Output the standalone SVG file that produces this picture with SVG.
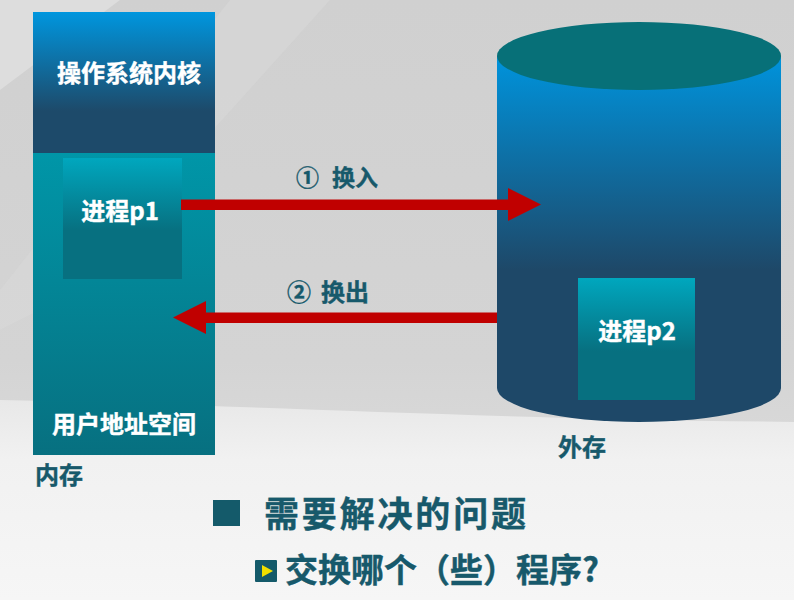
<svg xmlns="http://www.w3.org/2000/svg" width="794" height="600" viewBox="0 0 794 600">
<defs>
<linearGradient id="bg" x1="0" y1="0" x2="0" y2="1">
<stop offset="0" stop-color="#d0d0d0"/>
<stop offset="0.6" stop-color="#d4d4d4"/>
<stop offset="1" stop-color="#e2e2e2"/>
</linearGradient>
<linearGradient id="bg2" x1="0" y1="0" x2="0" y2="1">
<stop offset="0" stop-color="#e8e8e8"/>
<stop offset="0.3" stop-color="#f1f1f1"/>
<stop offset="1" stop-color="#f6f6f6"/>
</linearGradient>
<linearGradient id="kern" x1="0" y1="0" x2="0" y2="1">
<stop offset="0" stop-color="#0096de"/>
<stop offset="0.7" stop-color="#1d4a6a"/>
<stop offset="1" stop-color="#1d4a6a"/>
</linearGradient>
<linearGradient id="user" x1="0" y1="0" x2="0" y2="1">
<stop offset="0" stop-color="#0096a8"/>
<stop offset="1" stop-color="#077080"/>
</linearGradient>
<linearGradient id="proc" x1="0" y1="0" x2="0" y2="1">
<stop offset="0" stop-color="#00a7be"/>
<stop offset="0.6" stop-color="#077080"/>
<stop offset="1" stop-color="#077080"/>
</linearGradient>
<linearGradient id="cyl" gradientUnits="userSpaceOnUse" x1="0" y1="60" x2="0" y2="270">
<stop offset="0" stop-color="#0092da"/>
<stop offset="1" stop-color="#1e4868"/>
</linearGradient>
<style>
.w{fill:#ffffff;stroke:#ffffff;stroke-width:0.4;font-family:"Noto Sans CJK SC","Noto Sans",sans-serif;font-weight:bold;text-anchor:middle}
.d{fill:#17596b;stroke:#17596b;stroke-width:0.4;font-family:"Noto Sans CJK SC","Noto Sans",sans-serif;font-weight:bold}
.arr{fill:#c00000}
</style>
</defs>
<rect x="0" y="0" width="794" height="600" fill="url(#bg)"/>
<path d="M0,0 L120,0 L0,90 Z" fill="#e2e2e2" opacity="0.7"/>
<path d="M230,0 L330,0 L60,300 L0,330 L0,290 Z" fill="#dadada" opacity="0.5"/>
<path d="M0,400 C250,405 450,418 794,422 L794,600 L0,600 Z" fill="url(#bg2)"/>

<g id="memory">
<rect x="33" y="12" width="182" height="141" fill="url(#kern)"/>
<rect x="33" y="153" width="182" height="302" fill="url(#user)"/>
<text class="w" x="129" y="82" font-size="24">操作系统内核</text>
<text class="w" x="124" y="433" font-size="24">用户地址空间</text>
</g>
<g id="p1">
<rect x="63" y="158" width="119" height="121" fill="url(#proc)"/>
<text class="w" x="120" y="220" font-size="24">进程p1</text>
</g>
<g id="memory-label">
<text class="d" x="35" y="484" font-size="24">内存</text>
</g>

<g id="disk">
<path d="M497,56 L497,388 A142,34 0 0 0 781,388 L781,56 Z" fill="url(#cyl)"/>
<ellipse cx="639" cy="56" rx="142" ry="34" fill="#077078"/>
</g>
<g id="p2">
<rect x="578" y="278" width="117" height="122" fill="url(#proc)"/>
<text class="w" x="637" y="340" font-size="24">进程p2</text>
</g>
<g id="disk-label">
<text class="d" x="558" y="456" font-size="24">外存</text>
</g>

<g id="connectors">
<path class="arr" d="M181,199.5 L508,199.5 L508,188 L541,204.5 L508,221 L508,210 L181,210 Z"/>
<path class="arr" d="M497,312.5 L206,312.5 L206,301 L173,317.5 L206,334 L206,323 L497,323 Z"/>
<text class="d" font-size="23" y="186"><tspan x="296">①</tspan><tspan x="332">换入</tspan></text>
<text class="d" font-size="24" y="301"><tspan x="287">②</tspan><tspan x="321">换出</tspan></text>
</g>

<g id="notes">
<rect x="213" y="500" width="27" height="26" fill="#145a6a"/>
<text class="d" x="264" y="527" font-size="35" textLength="262">需要解决的问题</text>
<rect x="255" y="560" width="22" height="22" rx="1" fill="#145a6a"/>
<path d="M262,565 L273,571 L262,577 Z" fill="#f0e000"/>
<text class="d" x="285" y="582" font-size="33" textLength="314">交换哪个（些）程序?</text>
</g>
</svg>
